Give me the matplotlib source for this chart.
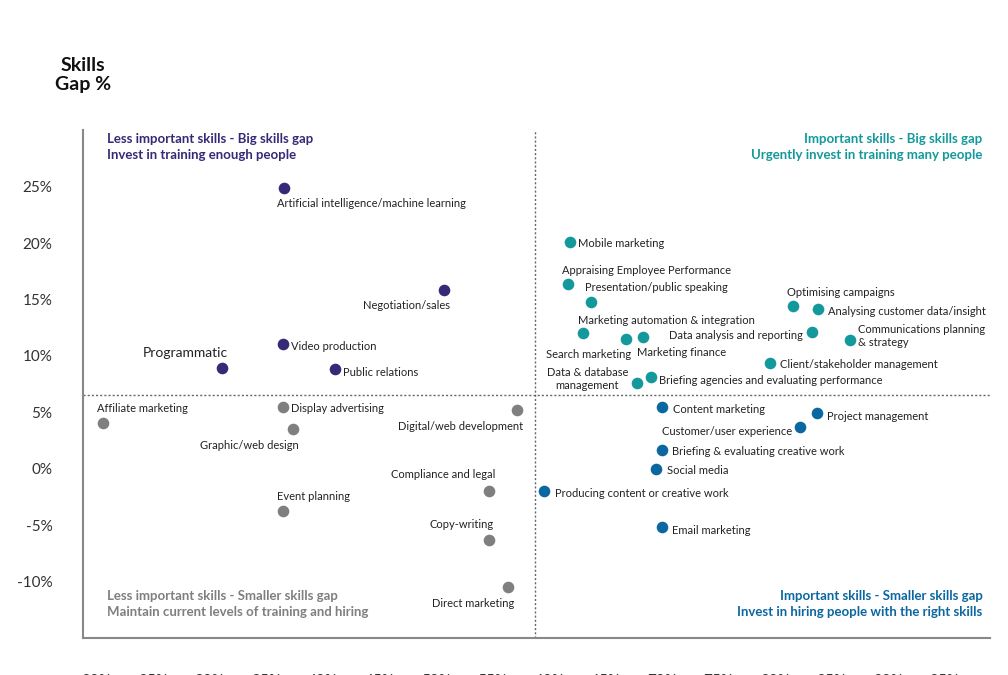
import matplotlib
matplotlib.use('Agg')
import matplotlib.pyplot as plt

plt.rcParams['font.family'] = ['Lato', 'DejaVu Sans']

PURPLE = '#352a78'
GREY = '#7f7f7f'
TEAL = '#13999b'
BLUE = '#0b67a0'

# importance %, gap %
purple_names = ['Artificial intelligence/machine learning', 'Negotiation/sales', 'Video production',
                'Programmatic', 'Public relations']
purple_x = [36.6, 50.7, 36.5, 31.1, 41.1]
purple_y = [24.9, 15.8, 11.1, 8.9, 8.8]

grey_names = ['Affiliate marketing', 'Display advertising', 'Graphic/web design', 'Digital/web development',
              'Compliance and legal', 'Event planning', 'Copy-writing', 'Direct marketing']
grey_x = [20.6, 36.5, 37.4, 57.2, 54.7, 36.5, 54.7, 56.4]
grey_y = [4.1, 5.5, 3.5, 5.2, -2.0, -3.7, -6.3, -10.5]

teal_names = ['Mobile marketing', 'Appraising Employee Performance', 'Presentation/public speaking',
              'Search marketing', 'Marketing automation & integration', 'Marketing finance',
              'Data & database\nmanagement', 'Briefing agencies and evaluating performance',
              'Client/stakeholder management', 'Optimising campaigns', 'Analysing customer data/insight',
              'Data analysis and reporting', 'Communications planning\n& strategy']
teal_x = [61.9, 61.7, 63.7, 63.0, 66.8, 68.3, 67.8, 69.0, 79.6, 81.6, 83.8, 83.3, 86.6]
teal_y = [20.1, 16.4, 14.8, 12.0, 11.5, 11.7, 7.6, 8.1, 9.4, 14.4, 14.2, 12.1, 11.4]

blue_names = ['Content marketing', 'Project management', 'Customer/user experience',
              'Briefing & evaluating creative work', 'Social media', 'Producing content or creative work',
              'Email marketing']
blue_x = [70.0, 83.7, 82.2, 70.0, 69.5, 59.6, 70.0]
blue_y = [5.5, 4.9, 3.7, 1.7, 0.0, -2.0, -5.2]

x_ticks = list(range(20, 100, 5))
y_ticks = [-10, -5, 0, 5, 10, 15, 20, 25]

# label offsets in pixels (dx, dy, ha)
purple_off = [(-7, -16, 'left'), (6, -15, 'right'), (8, -3, 'left'), (6, 15, 'right'), (8, -3, 'left')]
grey_off = [(-6, 14, 'left'), (8, -2, 'left'), (5, -16, 'right'), (6, -16, 'right'),
            (6, 17, 'right'), (-6, 14, 'left'), (5, 15, 'right'), (6, -16, 'right')]
teal_off = [(8, -2, 'left'), (-6, 13, 'left'), (-6, 14, 'left'), (6, -21, 'center'), (-48, 19, 'left'),
            (-6, -16, 'left'), (-9, 4, 'right'), (8, -3, 'left'), (10, -2, 'left'), (-6, 14, 'left'),
            (10, -3, 'left'), (-9, -3, 'right'), (8, 4, 'left')]
blue_off = [(11, -3, 'left'), (10, -3, 'left'), (-8, -4, 'right'), (10, -2, 'left'),
            (11, -2, 'left'), (11, -2, 'left'), (10, -3, 'left')]

fig = plt.figure(figsize=(10.08, 6.75), dpi=100)
ax = fig.add_axes([0.0823, 0.0548, 0.8997, 0.7522])

for names, xs, ys, offs, col in [(purple_names, purple_x, purple_y, purple_off, PURPLE),
                                  (grey_names, grey_x, grey_y, grey_off, GREY),
                                  (teal_names, teal_x, teal_y, teal_off, TEAL),
                                  (blue_names, blue_x, blue_y, blue_off, BLUE)]:
    ax.scatter(xs, ys, s=70, color=col, zorder=3, linewidths=0)
    for n, x, y, (dx, dy, ha) in zip(names, xs, ys, offs):
        ax.annotate(n, (x, y), xytext=(dx, dy), textcoords='offset pixels', ha=ha, va='center',
                    fontsize=10 if n == 'Programmatic' else 8, color='#222222',
                    multialignment='center' if ha == 'right' else 'left')

ax.axvline(58.75, color='#666666', ls=(0, (1.5, 1.5)), lw=1)
ax.axhline(6.56, color='#666666', ls=(0, (1.5, 1.5)), lw=1)

ax.set_xlim(18.8, 99)
ax.set_ylim(-15, 30)
ax.set_xticks(x_ticks)
ax.set_xticklabels([f'{t}%' for t in x_ticks])
ax.set_yticks(y_ticks)
ax.set_yticklabels([f'{t}%' for t in y_ticks])
ax.tick_params(axis='both', length=0, labelsize=11, colors='#333333')
ax.tick_params(axis='x', pad=26)
ax.tick_params(axis='y', pad=22)
for s in ['top', 'right']:
    ax.spines[s].set_visible(False)
for s in ['left', 'bottom']:
    ax.spines[s].set_color('#888888')
    ax.spines[s].set_linewidth(1.5)

qkw = dict(transform=ax.transAxes, fontsize=9.5, fontweight='bold', linespacing=1.4)
ax.text(0.027, 0.995, 'Less important skills - Big skills gap\nInvest in training enough people',
        ha='left', va='top', color=PURPLE, **qkw)
ax.text(0.992, 0.995, 'Important skills - Big skills gap\nUrgently invest in training many people',
        ha='right', va='top', color=TEAL, multialignment='right', **qkw)
ax.text(0.027, 0.04, 'Less important skills - Smaller skills gap\nMaintain current levels of training and hiring',
        ha='left', va='bottom', color=GREY, **qkw)
ax.text(0.992, 0.04, 'Important skills - Smaller skills gap\nInvest in hiring people with the right skills',
        ha='right', va='bottom', color=BLUE, multialignment='right', **qkw)

fig.text(83 / 1008, 1 - 75 / 675, 'Skills\nGap %', ha='center', va='center', fontsize=14,
         fontweight='bold', color='#111111', linespacing=1.2)

plt.savefig('out.png', dpi=100)
